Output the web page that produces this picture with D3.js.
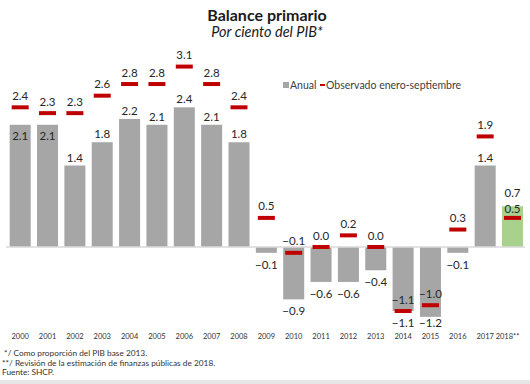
<!DOCTYPE html>
<html>
<head>
<meta charset="utf-8">
<script src="https://cdn.jsdelivr.net/npm/d3@7"></script>
<style>
  html, body { margin: 0; padding: 0; background: #fff; }
  svg { display: block; font-family: Lato, "Open Sans", sans-serif; }
</style>
</head>
<body>
<svg id="chart" width="530" height="384"></svg>
<script>
const years = ["2000","2001","2002","2003","2004","2005","2006","2007","2008","2009","2010","2011","2012","2013","2014","2015","2016","2017","2018"];
const yearLabels = ["2000","2001","2002","2003","2004","2005","2006","2007","2008","2009","2010","2011","2012","2013","2014","2015","2016","2017","2018**"];
const anual = [2.1, 2.1, 1.4, 1.8, 2.2, 2.1, 2.4, 2.1, 1.8, -0.1, -0.9, -0.6, -0.6, -0.4, -1.1, -1.2, -0.1, 1.4, 0.7];
const observado = [2.4, 2.3, 2.3, 2.6, 2.8, 2.8, 3.1, 2.8, 2.4, 0.5, -0.1, 0.0, 0.2, 0.0, -1.1, -1.0, 0.3, 1.9, 0.5];
const legendLabels = ["Anual", "Observado enero-septiembre"];
const title = "Balance primario";
const subtitle = "Por ciento del PIB*";
const footnotes = [" */ Como proporción del PIB base 2013.", "**/ Revisión de la estimación de finanzas públicas de 2018.", "Fuente: SHCP."];

const svg = d3.select("#chart");
const data = years.map((y, i) => ({ year: y, label: yearLabels[i], a: anual[i], o: observado[i], last: i === years.length - 1 }));

const x = d3.scaleBand().domain(years).range([6.5, 526.2]).paddingInner(0.232).paddingOuter(0.116);
const y = d3.scaleLinear().domain([-1.2, 3.1]).range([247 + 1.2 * 58.2, 247 - 3.1 * 58.2]);
const fmt = d3.format(".1f");

// title
svg.append("text").attr("x", 267).attr("y", 21).attr("text-anchor", "middle")
  .attr("font-size", 16).attr("font-weight", "bold").attr("fill", "#1a1a1a").text(title);
svg.append("text").attr("x", 267).attr("y", 36.5).attr("text-anchor", "middle")
  .attr("font-size", 14.5).attr("font-style", "italic").attr("fill", "#1a1a1a").text(subtitle);

// legend
svg.append("rect").attr("x", 283).attr("y", 82).attr("width", 6).attr("height", 6).attr("fill", "#a6a6a6");
svg.append("text").attr("x", 290).attr("y", 88.5).attr("font-size", 10.5).attr("fill", "#404040").text(legendLabels[0]);
svg.append("rect").attr("x", 320).attr("y", 84).attr("width", 5).attr("height", 2).attr("fill", "#c00000");
svg.append("text").attr("x", 326).attr("y", 88.5).attr("font-size", 10.5).attr("fill", "#404040").text(legendLabels[1]);

// bars
svg.append("g").selectAll("rect").data(data).join("rect")
  .attr("x", d => x(d.year))
  .attr("width", x.bandwidth())
  .attr("y", d => Math.min(y(d.a), y(0)))
  .attr("height", d => Math.abs(y(d.a) - y(0)))
  .attr("fill", d => d.last ? "#a9d18e" : "#a6a6a6");

// zero line
svg.append("line").attr("x1", 6).attr("x2", 525).attr("y1", y(0)).attr("y2", y(0))
  .attr("stroke", "#d9d9d9").attr("stroke-width", 1.5);

// markers
svg.append("g").selectAll("rect").data(data).join("rect")
  .attr("x", d => x(d.year) + x.bandwidth() / 2 - 8.5)
  .attr("width", 17)
  .attr("y", d => y(d.o) - 2)
  .attr("height", 4)
  .attr("fill", "#c00000");

// annual labels
svg.append("g").selectAll("text").data(data).join("text")
  .attr("x", d => x(d.year) + x.bandwidth() / 2)
  .attr("y", d => {
    if (d.a < 0) return Math.min(y(d.a) + 16, 327);
    const inside = d.o > d.a && d.o - d.a < 0.4;
    if (inside) return y(d.a) + 15;
    const markerInBar = d.o < d.a && d.a - d.o < 0.4;
    return markerInBar ? y(d.a) - 9 : y(d.a) - 4;
  })
  .attr("text-anchor", "middle").attr("font-size", 11.5).attr("fill", "#262626")
  .text(d => fmt(d.a));

// observed labels
svg.append("g").selectAll("text").data(data).join("text")
  .attr("x", d => x(d.year) + x.bandwidth() / 2)
  .attr("y", d => (d.o < d.a && d.a - d.o < 0.4 && d.a > 0) ? y(d.o) - 5 : y(d.o) - 7.5)
  .attr("text-anchor", "middle").attr("font-size", 11.5).attr("fill", "#262626")
  .text(d => fmt(d.o));

// x axis
const xAxis = d3.axisBottom(x).tickSize(0).tickFormat((d, i) => yearLabels[i]);
const gx = svg.append("g").attr("transform", "translate(0,331)").call(xAxis);
gx.select(".domain").remove();
gx.selectAll("text").attr("font-size", 7.5).attr("font-family", "Lato, sans-serif").attr("fill", "#333")
  .attr("dx", (d, i) => i === years.length - 1 ? -5 : 0);

// footnotes
svg.append("g").selectAll("text").data(footnotes).join("text")
  .attr("x", 2).attr("y", (d, i) => 356 + i * 9.5)
  .attr("font-size", 8.3).attr("fill", "#333").attr("xml:space", "preserve")
  .style("white-space", "pre")
  .text(d => d);

// bottom band
svg.append("rect").attr("x", 0).attr("y", 380).attr("width", 530).attr("height", 4).attr("fill", "#e6e6e6");
</script>
</body>
</html>
